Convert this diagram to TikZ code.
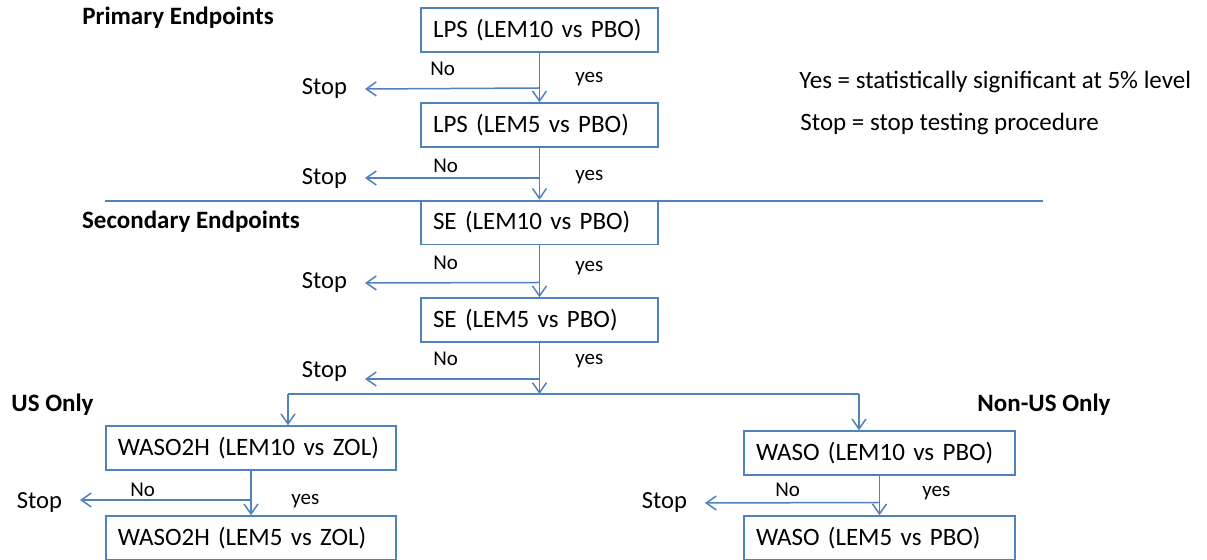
\documentclass[tikz,border=0pt]{standalone}
\usepackage{fontspec}
\setmainfont{Carlito}
\usetikzlibrary{arrows.meta}
\definecolor{lblue}{RGB}{79,129,189}
\newcommand\myboxfont{\fontsize{12.5}{14}\selectfont\spaceskip=0.16em plus 0.05em\relax}
\begin{document}
\begin{tikzpicture}[x=0.5pt,y=-0.5pt,
  box/.style={draw=lblue, line width=0.75pt, rectangle, minimum height=22pt,
    inner xsep=6pt, inner ysep=0pt, align=left, text width=#1,
    font=\myboxfont},
  box/.default=106.5pt,
  stoptxt/.style={inner sep=0pt, outer xsep=9pt, font=\fontsize{12.3}{14}\selectfont},
  lbl/.style={inner sep=0pt, anchor=west, font=\fontsize{10.5}{12}\selectfont},
  head/.style={inner sep=0pt, font=\bfseries\fontsize{12.5}{14}\selectfont},
  legend/.style={inner sep=0pt, anchor=west, font=\fontsize{12.5}{14}\selectfont},
  conn/.style={draw=lblue, line width=0.75pt},
  arr/.style={conn, -{Straight Barb[length=5pt,width=7pt]}}
]
\useasboundingbox (0,0) rectangle (1207,560);

% headers and legend
\node[head] (h1) at (178,18) {Primary Endpoints};
\node[head] (h2) at (191,222) {Secondary Endpoints};
\node[head] (h3) at (52.5,405) {US Only};
\node[head] (h4) at (1044,405) {Non-US Only};
\node[legend] (lg1) at (799,82) {Yes = statistically significant at 5\% level};
\node[legend] (lg2) at (800,124) {Stop = stop testing procedure};

% separator
\coordinate (sepL) at (105,201);
\coordinate (sepR) at (1043,201);
\draw[conn] (sepL) -- (sepR);

% boxes
\node[box] (b1) at (539.5,30) {LPS (LEM10 vs PBO)};
\node[box] (b2) at (539.5,125) {LPS (LEM5 vs PBO)};
\node[box] (b3) at (539.5,222.5) {SE (LEM10 vs PBO)};
\node[box] (b4) at (539.5,320) {SE (LEM5 vs PBO)};
\node[box=133pt] (b5) at (251,448) {WASO2H (LEM10 vs ZOL)};
\node[box=133pt] (b6) at (251,538) {WASO2H (LEM5 vs ZOL)};
\node[box=123.5pt] (b7) at (879.5,453) {WASO (LEM10 vs PBO)};
\node[box=123.5pt] (b8) at (879.5,538) {WASO (LEM5 vs PBO)};

% stop texts
\node[stoptxt, anchor=east] (s1) at (347+18,89) {Stop};
\node[stoptxt, anchor=east] (s2) at (347+18,179) {Stop};
\node[stoptxt, anchor=east] (s3) at (347+18,283) {Stop};
\node[stoptxt, anchor=east] (s4) at (347+18,372) {Stop};
\node[stoptxt, anchor=east] (s5) at (62+18,503) {Stop};
\node[stoptxt, anchor=east] (s6) at (687+18,503) {Stop};

% junctions
\coordinate (j1) at (539.5,88);
\coordinate (j2) at (539.5,178);
\coordinate (j3) at (539.5,282.5);
\coordinate (j4) at (539.5,379);
\coordinate (j5) at (251,500);
\coordinate (j6) at (879.5,502.5);
\coordinate (br) at (539.5,394);
\coordinate (brL) at (288,394);
\coordinate (brR) at (859,394);

% main flow
\draw[arr] (b1.south) -- (b2.north);
\draw[arr] (b2.south) -- (b3.north);
\draw[arr] (b3.south) -- (b4.north);
\draw[arr] (b4.south) -- (br);
\draw[conn] (brL) -- (brR);
\draw[arr] (brL) -- (brL |- b5.north);
\draw[arr] (brR) -- (brR |- b7.north);
\draw[arr] (b5.south) -- (b6.north);
\draw[arr] (b7.south) -- (b8.north);

% stop arrows
\draw[arr] (j1) -- (s1.east);
\draw[arr] (j2) -- (j2 -| s2.east);
\draw[arr] (j3) -- (s3.east);
\draw[arr] (j4) -- (j4 -| s4.east);
\draw[arr] (j5) -- (j5 -| s5.east);
\draw[arr] (j6) -- (s6.east);

% labels
\node[lbl] (n1) at (430,69) {No};
\node[lbl] (y1) at (575,79) {yes};
\node[lbl] (n2) at (433,166) {No};
\node[lbl] (y2) at (575,177) {yes};
\node[lbl] (n3) at (433,263) {No};
\node[lbl] (y3) at (575,268) {yes};
\node[lbl] (n4) at (433,359) {No};
\node[lbl] (y4) at (575,361) {yes};
\node[lbl] (n5) at (130,490) {No};
\node[lbl] (y5) at (291,501) {yes};
\node[lbl] (n6) at (775,490) {No};
\node[lbl] (y6) at (922,493) {yes};
\end{tikzpicture}
\end{document}
